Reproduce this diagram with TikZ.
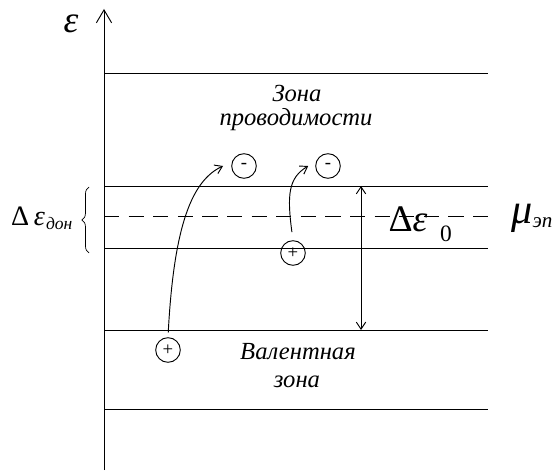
\documentclass[tikz,border=0pt]{standalone}
\usepackage{fontspec}
\setmainfont{Liberation Serif}
\usetikzlibrary{arrows.meta, decorations.pathreplacing}

\begin{document}
\begin{tikzpicture}[
    x=0.03cm, y=0.03cm,
    line width=0.8pt,
    every node/.style={font=\itshape\fontsize{21}{25}\selectfont},
    level/.style={line width=0.8pt},
    bandlabel/.style={inner sep=1pt},
    charge/.style={draw, circle, minimum size=21pt, inner sep=0pt,
        font=\fontsize{16}{16}\selectfont},
    >={Straight Barb[length=6pt, width=8pt]}
]
\useasboundingbox (0,0) rectangle (558,470);

% ===== Energy axis =====
\coordinate (axisbot) at (104,0);
\coordinate (axistop) at (104,461);
\draw[-{Straight Barb[length=11pt, width=13pt]}] (axisbot) -- (axistop);
\node (eps) at (71,446) {\fontsize{32}{32}\selectfont ε};

% ===== Band edges =====
\draw[level] (104,397) -- (488,397);
\draw[level] (104,284) -- (488,284);
\draw[level, dash pattern=on 13pt off 8pt] (104,254) -- (488,254);
\draw[level] (104,222) -- (488,222);
\draw[level] (104,140) -- (488,140);
\draw[level] (104,61) -- (488,61);

% --- Band labels ---
\node[bandlabel] (cond1) at (297,377) {Зона};
\node[bandlabel] (cond2) at (296,350) {проводимости};
\node[bandlabel] (val1) at (298,118) {Валентная};
\node[bandlabel] (val2) at (297,88) {зона};

% ===== Donor level =====
\draw[line width=0.6pt, decorate, decoration={brace, amplitude=6pt}]
    (89,217) -- (89,283);
\node (ddon) at (42,252) {\fontsize{24}{24}\selectfont\upshape Δ\,\itshape ε\kern1pt\textsubscript{\fontsize{15}{15}\selectfont дон}};

% ===== Gap =====
\coordinate (gaptop) at (361,284);
\coordinate (gapbot) at (361,140);
\draw[<->] (gapbot) -- (gaptop);
\node (dzero) at (408,251) {\fontsize{32}{32}\selectfont\upshape Δ\itshape ε};
\node (zero) at (446,236) {\fontsize{20}{20}\selectfont\upshape 0};
\node (mu) at (532,252) {\fontsize{36}{36}\selectfont μ\raisebox{-4pt}{\fontsize{18}{18}\selectfont эп}};

% ===== Carriers =====
\node[charge] (minus1) at (244,304) {-};
\node[charge] (minus2) at (328,304) {-};
\node[charge] (plus1) at (168,120) {+};
\node[charge] (plus2) at (293,217) {+};

% --- Transitions ---
\draw[->, shorten <=4pt] (plus1.north) .. controls +(6,115) and +(-30,-14) .. ([xshift=-7pt]minus1.west);
\draw[->, shorten <=7pt] (plus2.north) .. controls +(-6,45) and +(-20,-12) .. ([xshift=-6pt]minus2.west);

\end{tikzpicture}
\end{document}
